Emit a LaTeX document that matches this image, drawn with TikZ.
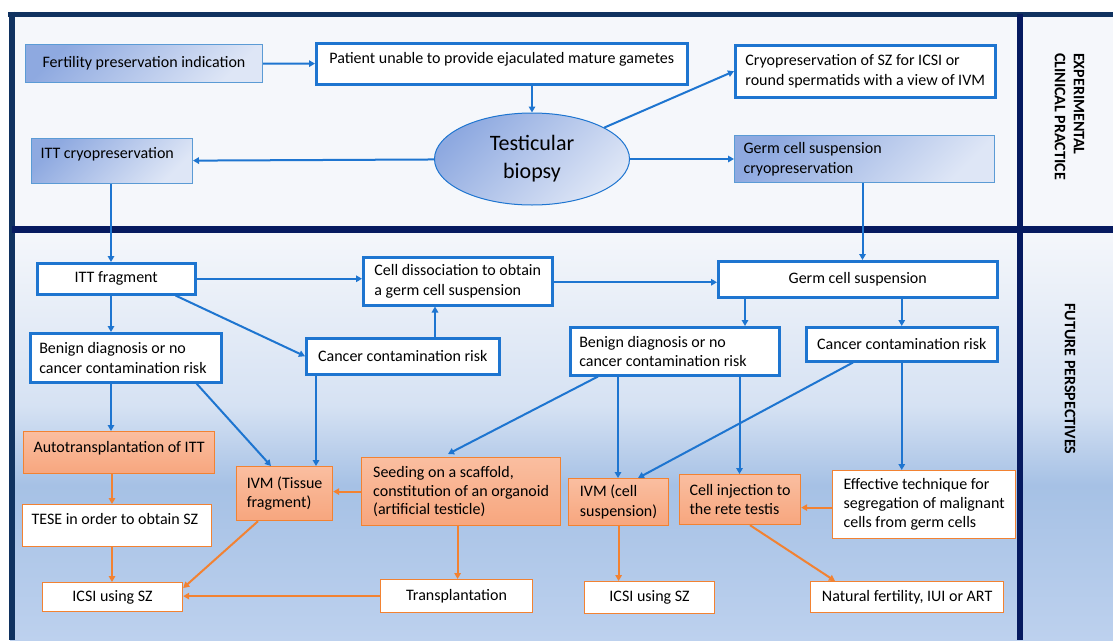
\documentclass[tikz,border=0pt]{standalone}
\usepackage{fontspec}
\setmainfont{Carlito}
\usetikzlibrary{arrows.meta,shapes.geometric,calc}
\definecolor{navyA}{RGB}{16,50,96}
\definecolor{navyB}{RGB}{6,26,96}
\definecolor{bl}{RGB}{30,117,208}
\definecolor{blthin}{RGB}{91,155,213}
\definecolor{gradA}{RGB}{142,169,224}
\definecolor{gradB}{RGB}{222,230,246}
\definecolor{orl}{RGB}{242,130,50}
\definecolor{orA}{RGB}{250,190,160}
\definecolor{orB}{RGB}{247,166,126}
\definecolor{bgTop}{RGB}{245,247,251}
\definecolor{bgMid}{RGB}{214,226,243}
\definecolor{bgBlue}{RGB}{166,193,229}
\definecolor{bgLow}{RGB}{189,209,238}
\begin{document}
\begin{tikzpicture}[x=1pt,y=-1pt,
  every node/.style={font=\fontsize{16}{19.5}\selectfont, inner sep=0pt},
  wbox/.style={rectangle, draw=bl, line width=2.5pt, fill=white, anchor=north west},
  gbox/.style={rectangle, draw=blthin, line width=1pt, top color=gradA, bottom color=gradB, shading angle=45, anchor=north west},
  obox/.style={rectangle, draw=orl, line width=1.2pt, top color=orA, bottom color=orB, anchor=north west},
  owbox/.style={rectangle, draw=orl, line width=1.2pt, fill=white, anchor=north west},
  barr/.style={draw=bl, line width=2pt, -{Triangle[length=6pt,width=6.5pt]}},
  oarr/.style={draw=orl, line width=2pt, -{Triangle[length=6pt,width=6.5pt]}},
  side/.style={font=\bfseries\fontsize{16}{19}\selectfont, rotate=-90, align=left}
]
\useasboundingbox (0,0) rectangle (1113,640);
% background
\fill[white] (0,0) rectangle (1113,640);
\fill[bgTop] (10,12) rectangle (1113,229);
\shade[top color=bgTop, bottom color=bgMid] (10,229) rectangle (1113,405);
\shade[top color=bgMid, bottom color=bgBlue] (10,405) rectangle (1113,485);
\shade[top color=bgBlue, bottom color=bgLow] (10,485) rectangle (1113,640);
% frame
\draw[navyA, line width=5pt] (8,14) -- (1113,14);
\draw[navyA, line width=6pt] (11.5,11.5) -- (11.5,640);
\draw[navyB, line width=7pt] (11.5,229) -- (1113,229);
\draw[navyB, line width=6pt] (1019.5,14) -- (1019.5,640);
% side labels
\node[side] (labA) at (1069.5,116.5) {EXPERIMENTAL\\CLINICAL PRACTICE};
\node[side] (labB) at (1070,379) {FUTURE PERSPECTIVES};

% top section
\node[gbox, minimum width=237pt, minimum height=38pt] (fert) at (25,44) {Fertility preservation indication};
\node[wbox, minimum width=371pt, text height=20pt, text depth=21pt] (patient) at (315,42) {Patient unable to provide ejaculated mature gametes};
\node[wbox, minimum width=260pt, minimum height=52pt, align=left] (cryoSZ) at (734,44) {Cryopreservation of SZ for ICSI or\\round spermatids with a view of IVM};
\node[ellipse, draw=bl, line width=1pt, top color=gradA, bottom color=gradB, shading angle=45,
  minimum width=195pt, minimum height=92pt, align=center, font=\fontsize{22}{28}\selectfont] (biopsy) at (532,159) {Testicular\\biopsy};
\node[gbox, text width=143pt, inner xsep=9pt, align=flush left, text height=20pt, text depth=25pt] (ittcryo) at (31,138) {ITT cryopreservation};
\node[gbox, text width=242pt, inner xsep=9pt, align=flush left, minimum height=47pt] (gcscryo) at (734,135) {Germ cell suspension\\cryopreservation};

% lower section: blue boxes
\node[wbox, minimum width=158pt, minimum height=31pt] (ittfrag) at (36,262) {ITT fragment};
\node[wbox, minimum width=189pt, minimum height=48pt, align=left] (celldiss) at (362,256) {Cell dissociation to obtain\\a germ cell suspension};
\node[wbox, minimum width=279pt, minimum height=36pt] (gcs) at (717,260) {Germ cell suspension};
\node[wbox, text width=173pt, inner xsep=9pt, minimum height=49pt, align=flush left] (benL) at (29,332) {Benign diagnosis or no\\cancer contamination risk};
\node[wbox, minimum width=193pt, minimum height=36pt] (cancM) at (305,337) {Cancer contamination risk};
\node[wbox, text width=191pt, inner xsep=9pt, minimum height=48pt, align=flush left] (benR) at (569,326) {Benign diagnosis or no\\cancer contamination risk};
\node[wbox, minimum width=191pt, minimum height=34pt] (cancR) at (805,326) {Cancer contamination risk};

% orange boxes
\node[obox, minimum width=191pt, text height=21pt, text depth=21pt] (autot) at (23,431) {Autotransplantation of ITT};
\node[obox, minimum width=96pt, minimum height=54pt, align=left] (ivmT) at (236,466) {IVM (Tissue\\fragment)};
\node[obox, minimum width=199pt, minimum height=68pt, align=left, font=\fontsize{16}{18.5}\selectfont] (seed) at (361,457) {Seeding on a scaffold,\\constitution of an organoid\\(artificial testicle)};
\node[obox, minimum width=100pt, minimum height=47pt, align=left] (ivmC) at (568,478) {IVM (cell\\suspension)};
\node[obox, minimum width=121pt, minimum height=50pt, align=left] (inj) at (679,474) {Cell injection to\\the rete testis};
\node[owbox, minimum width=183pt, minimum height=68pt, align=left, font=\fontsize{16}{19}\selectfont] (eff) at (832,470) {Effective technique for\\segregation of malignant\\cells from germ cells};
\node[owbox, text width=171pt, inner xsep=9pt, align=flush left, text height=20pt, text depth=22pt] (tese) at (22,504) {\mbox{TESE in order to obtain SZ}};
\node[owbox, minimum width=140pt, minimum height=29pt] (icsiL) at (42,582) {ICSI using SZ};
\node[owbox, minimum width=152pt, minimum height=33pt] (transp) at (380,579) {Transplantation};
\node[owbox, minimum width=130pt, minimum height=32pt] (icsiM) at (584,581) {ICSI using SZ};
\node[owbox, minimum width=193pt, minimum height=31pt] (nat) at (810,581) {Natural fertility, IUI or ART};

\coordinate (colL) at (111,0);

% blue connectors
\draw[barr] (fert) -- (patient);
\draw[barr] (patient.south -| biopsy) -- (biopsy);
\draw[barr] (biopsy) -- (cryoSZ.west);
\draw[barr] (biopsy) -- (ittcryo);
\draw[barr] (biopsy) -- (gcscryo);
\draw[barr] (colL |- ittcryo.south) -- (colL |- ittfrag.north);
\draw[barr] ([xshift=-2pt]gcscryo.south) -- ([xshift=-2pt]gcscryo.south |- gcs.north);
\draw[barr] (ittfrag.east) -- (ittfrag.east -| celldiss.west);
\draw[barr] ([yshift=-1pt]celldiss.east) -- ([yshift=-1pt]celldiss.east -| gcs.west);
\draw[barr] (colL |- ittfrag.south) -- (colL |- benL.north);
\draw[barr] ([xshift=-21pt]ittfrag.south east) -- (cancM.west);
\draw[barr] ([xshift=130pt]cancM.north west) -- ([xshift=130pt]cancM.north west |- celldiss.south);
\draw[barr] ([xshift=28pt]gcs.south west) -- ([xshift=28pt]gcs.south west |- benR.north);
\draw[barr] (cancR.north |- gcs.south) -- (cancR.north);
\draw[barr] (colL |- benL.south) -- (colL |- autot.north);
\draw[barr] ([xshift=-26pt]benL.south east) -- ([xshift=35pt]ivmT.north west);
\draw[barr] ([xshift=11pt]cancM.south west) -- ([xshift=11pt]cancM.south west |- ivmT.north);
\draw[barr] ([xshift=29pt]benR.south west) -- ([xshift=87pt,yshift=3pt]seed.north west);
\draw[barr] ([xshift=49pt]benR.south west) -- ([xshift=49pt]benR.south west |- ivmC.north);
\draw[barr] ([xshift=-41pt]benR.south east) -- ([xshift=-41pt]benR.south east |- inj.north);
\draw[barr] ([xshift=48pt]cancR.south west) -- ([xshift=70pt]ivmC.north west);
\draw[barr] (cancR.south) -- (cancR.south |- eff.north);

% orange connectors
\draw[oarr] ([xshift=1pt]colL |- autot.south) -- ([xshift=1pt]colL |- tese.north);
\draw[oarr] ([xshift=1pt]colL |- tese.south) -- ([xshift=1pt]colL |- icsiL.north);
\draw[oarr] ([xshift=22pt]ivmT.south west) -- ([yshift=-6pt]icsiL.north east);
\draw[oarr] (transp.west) -- (transp.west -| icsiL.east);
\draw[oarr] (seed.west) -- (seed.west -| ivmT.east);
\draw[oarr] ([xshift=1pt]transp.north |- seed.south) -- ([xshift=1pt]transp.north);
\draw[oarr] (ivmC.south) -- (ivmC.south |- icsiM.north);
\draw[oarr] ([yshift=-3pt]eff.west) -- ([yshift=-3pt]eff.west -| inj.east);
\draw[oarr] ([xshift=71pt]inj.south west) -- ([xshift=25pt]nat.north west);
\end{tikzpicture}
\end{document}
